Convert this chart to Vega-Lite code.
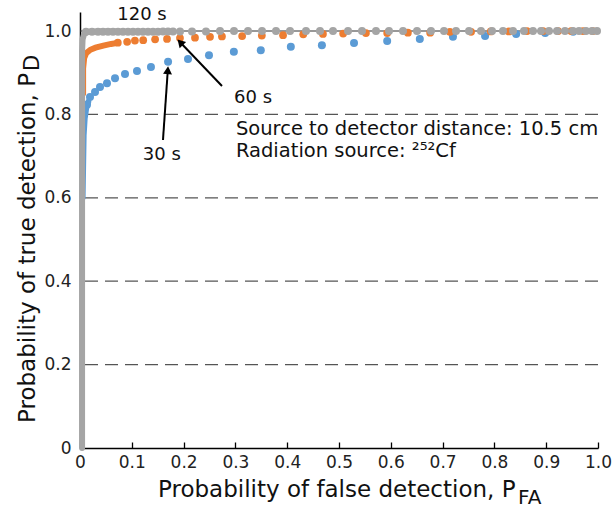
{
  "$schema": "https://vega.github.io/schema/vega-lite/v6.json",
  "width": 518,
  "height": 436,
  "autosize": "none",
  "padding": {"left": 80, "top": 12, "right": 18, "bottom": 64},
  "background": "white",
  "config": {
    "view": {"stroke": null},
    "font": "DejaVu Sans",
    "axis": {"grid": false, "domainColor": "#000", "domainWidth": 1.5, "labelColor": "#222", "labelFontSize": 17, "labelFont": "DejaVu Sans"}
  },
  "datasets": {
    "grid": [{"y": 0.2}, {"y": 0.4}, {"y": 0.6}, {"y": 0.8}],
    "top": [{"y": 1.0}],
    "blueBand": [{"x": 0.005, "y": 0.6}, {"x": 0.007, "y": 0.75}, {"x": 0.009, "y": 0.79}, {"x": 0.012, "y": 0.815}, {"x": 0.016, "y": 0.83}],
    "blue": [
      {"x": 0.0135, "y": 0.823}, {"x": 0.0193, "y": 0.842}, {"x": 0.029, "y": 0.854}, {"x": 0.0386, "y": 0.866},
      {"x": 0.0521, "y": 0.875}, {"x": 0.0676, "y": 0.887}, {"x": 0.0869, "y": 0.897}, {"x": 0.110, "y": 0.904},
      {"x": 0.137, "y": 0.914}, {"x": 0.170, "y": 0.926}, {"x": 0.2085, "y": 0.933}, {"x": 0.249, "y": 0.942},
      {"x": 0.297, "y": 0.950}, {"x": 0.349, "y": 0.954}, {"x": 0.407, "y": 0.962}, {"x": 0.467, "y": 0.966},
      {"x": 0.529, "y": 0.971}, {"x": 0.593, "y": 0.976}, {"x": 0.656, "y": 0.981}, {"x": 0.720, "y": 0.986},
      {"x": 0.782, "y": 0.988}, {"x": 0.842, "y": 0.993}, {"x": 0.898, "y": 0.995}, {"x": 0.952, "y": 0.998}
    ],
    "orangeBand": [{"x": 0.006, "y": 0.85}, {"x": 0.006, "y": 0.91}, {"x": 0.008, "y": 0.935}, {"x": 0.012, "y": 0.947}, {"x": 0.02, "y": 0.955}, {"x": 0.03, "y": 0.96}, {"x": 0.045, "y": 0.965}, {"x": 0.06, "y": 0.969}, {"x": 0.07, "y": 0.971}],
    "orange": [
      {"x": 0.073, "y": 0.972}, {"x": 0.091, "y": 0.974}, {"x": 0.106, "y": 0.977}, {"x": 0.122, "y": 0.978},
      {"x": 0.145, "y": 0.980}, {"x": 0.168, "y": 0.981}, {"x": 0.193, "y": 0.983}, {"x": 0.222, "y": 0.984},
      {"x": 0.251, "y": 0.986}, {"x": 0.274, "y": 0.987}, {"x": 0.313, "y": 0.988}, {"x": 0.351, "y": 0.989},
      {"x": 0.392, "y": 0.990}, {"x": 0.431, "y": 0.992}, {"x": 0.469, "y": 0.993}, {"x": 0.508, "y": 0.994},
      {"x": 0.552, "y": 0.995}, {"x": 0.593, "y": 0.995}, {"x": 0.633, "y": 0.996}, {"x": 0.676, "y": 0.996},
      {"x": 0.714, "y": 0.998}, {"x": 0.755, "y": 0.998}, {"x": 0.793, "y": 0.999}, {"x": 0.828, "y": 0.999},
      {"x": 0.863, "y": 1.0}, {"x": 0.894, "y": 1.0}, {"x": 0.923, "y": 1.0}, {"x": 0.948, "y": 1.0},
      {"x": 0.971, "y": 1.0}, {"x": 0.990, "y": 1.0}
    ],
    "grayBand": [{"x": 0.004, "y": 0.0}, {"x": 0.004, "y": 0.6}, {"x": 0.004, "y": 0.95}, {"x": 0.005, "y": 0.98}, {"x": 0.008, "y": 0.993}, {"x": 0.015, "y": 0.998}, {"x": 0.04, "y": 0.999}, {"x": 0.075, "y": 0.999}],
    "gray": [
      {"x": 0.0116, "y": 0.998}, {"x": 0.0232, "y": 0.998}, {"x": 0.0347, "y": 0.998}, {"x": 0.0444, "y": 0.998},
      {"x": 0.0541, "y": 0.998}, {"x": 0.0637, "y": 0.998}, {"x": 0.0734, "y": 0.998}, {"x": 0.0830, "y": 0.998},
      {"x": 0.0927, "y": 0.998}, {"x": 0.1023, "y": 0.998}, {"x": 0.1120, "y": 0.998}, {"x": 0.1216, "y": 0.998},
      {"x": 0.1313, "y": 0.998}, {"x": 0.1409, "y": 0.998}, {"x": 0.1506, "y": 0.998}, {"x": 0.1602, "y": 0.999},
      {"x": 0.1699, "y": 0.999}, {"x": 0.1795, "y": 0.999}, {"x": 0.1931, "y": 0.999}, {"x": 0.2162, "y": 0.999},
      {"x": 0.2432, "y": 0.999}, {"x": 0.2703, "y": 1.0}, {"x": 0.2973, "y": 1.0}, {"x": 0.3243, "y": 1.0},
      {"x": 0.3514, "y": 1.0}, {"x": 0.3784, "y": 1.0}, {"x": 0.4054, "y": 1.0}, {"x": 0.4363, "y": 1.0},
      {"x": 0.4633, "y": 1.0}, {"x": 0.4884, "y": 1.0}, {"x": 0.5174, "y": 1.0}, {"x": 0.5444, "y": 1.0},
      {"x": 0.5714, "y": 1.0}, {"x": 0.5965, "y": 1.0}, {"x": 0.6236, "y": 1.0}, {"x": 0.6506, "y": 1.0},
      {"x": 0.6776, "y": 1.0}, {"x": 0.7027, "y": 1.0}, {"x": 0.7259, "y": 1.0}, {"x": 0.7510, "y": 1.0},
      {"x": 0.7741, "y": 1.0}, {"x": 0.7954, "y": 1.0}, {"x": 0.8166, "y": 1.0}, {"x": 0.8359, "y": 1.0},
      {"x": 0.8571, "y": 1.0}, {"x": 0.8745, "y": 1.0}, {"x": 0.8900, "y": 1.0}, {"x": 0.9054, "y": 1.0},
      {"x": 0.9208, "y": 1.0}, {"x": 0.9363, "y": 1.0}, {"x": 0.9517, "y": 1.0}, {"x": 0.9633, "y": 1.0},
      {"x": 0.9768, "y": 1.0}, {"x": 0.9884, "y": 1.0}, {"x": 0.9981, "y": 1.0}
    ],
    "arrows": [
      {"label": "60 s", "x": 0.2741, "y": 0.8681, "x2": 0.1934, "y2": 0.9729},
      {"label": "30 s", "x": 0.1602, "y": 0.7386, "x2": 0.1695, "y2": 0.906}
    ],
    "labels": [
      {"t": "120 s", "x": 0.1197, "y": 1.0264},
      {"t": "60 s", "x": 0.334, "y": 0.827},
      {"t": "30 s", "x": 0.158, "y": 0.691}
    ],
    "note": [
      {"t": "Source to detector distance: 10.5 cm", "x": 0.301, "y": 0.751},
      {"t": "Radiation source: ²⁵²Cf", "x": 0.301, "y": 0.698}
    ]
  },
  "layer": [
    {
      "data": {"name": "grid"},
      "mark": {"type": "rule", "strokeDash": [13, 7], "color": "#555", "strokeWidth": 1.3},
      "encoding": {
        "y": {"field": "y", "type": "quantitative", "title": null, "scale": {"domain": [0, 1.0456], "nice": false}}
      }
    },
    {
      "data": {"name": "top"},
      "mark": {"type": "rule", "color": "#333", "strokeWidth": 1.2},
      "encoding": {
        "y": {"field": "y", "type": "quantitative", "title": null, "scale": {"domain": [0, 1.0456], "nice": false}}
      }
    },
    {
      "data": {"name": "blueBand"},
      "mark": {"type": "line", "color": "#5B9BD5", "strokeWidth": 6, "strokeCap": "round"},
      "encoding": {
        "x": {"field": "x", "type": "quantitative", "title": null, "scale": {"domain": [0, 1], "nice": false},
          "axis": {"values": [0, 0.1, 0.2, 0.3, 0.4, 0.5, 0.6, 0.7, 0.8, 0.9, 1.0], "labelExpr": "datum.value == 0 ? '0' : format(datum.value, '.1f')", "labelFlush": false, "tickSize": -6, "tickColor": "#000", "tickWidth": 1.3, "labelPadding": 12}},
        "y": {"field": "y", "type": "quantitative", "title": null, "scale": {"domain": [0, 1.0456], "nice": false},
          "axis": {"values": [0, 0.2, 0.4, 0.6, 0.8, 1.0], "labelExpr": "datum.value == 0 ? '0' : format(datum.value, '.1f')", "ticks": false, "labelPadding": 9}},
        "order": {"field": "y", "type": "quantitative"}
      }
    },
    {
      "data": {"name": "blue"},
      "mark": {"type": "point", "filled": true, "opacity": 1, "color": "#5B9BD5", "size": 64},
      "encoding": {
        "x": {"field": "x", "type": "quantitative", "title": null, "scale": {"domain": [0, 1], "nice": false}},
        "y": {"field": "y", "type": "quantitative", "title": null, "scale": {"domain": [0, 1.0456], "nice": false}}
      }
    },
    {
      "data": {"name": "orangeBand"},
      "mark": {"type": "line", "color": "#ED7D31", "strokeWidth": 6, "strokeCap": "round"},
      "encoding": {
        "x": {"field": "x", "type": "quantitative", "title": null, "scale": {"domain": [0, 1], "nice": false}},
        "y": {"field": "y", "type": "quantitative", "title": null, "scale": {"domain": [0, 1.0456], "nice": false}},
        "order": {"field": "y", "type": "quantitative"}
      }
    },
    {
      "data": {"name": "orange"},
      "mark": {"type": "point", "filled": true, "opacity": 1, "color": "#ED7D31", "size": 60},
      "encoding": {
        "x": {"field": "x", "type": "quantitative", "title": null, "scale": {"domain": [0, 1], "nice": false}},
        "y": {"field": "y", "type": "quantitative", "title": null, "scale": {"domain": [0, 1.0456], "nice": false}}
      }
    },
    {
      "data": {"name": "grayBand"},
      "mark": {"type": "line", "color": "#A5A5A5", "strokeWidth": 6, "strokeCap": "round"},
      "encoding": {
        "x": {"field": "x", "type": "quantitative", "title": null, "scale": {"domain": [0, 1], "nice": false}},
        "y": {"field": "y", "type": "quantitative", "title": null, "scale": {"domain": [0, 1.0456], "nice": false}},
        "order": {"field": "y", "type": "quantitative"}
      }
    },
    {
      "data": {"name": "gray"},
      "mark": {"type": "point", "filled": true, "opacity": 1, "color": "#A5A5A5", "size": 64},
      "encoding": {
        "x": {"field": "x", "type": "quantitative", "title": null, "scale": {"domain": [0, 1], "nice": false}},
        "y": {"field": "y", "type": "quantitative", "title": null, "scale": {"domain": [0, 1.0456], "nice": false}}
      }
    },
    {
      "data": {"name": "arrows"},
      "mark": {"type": "rule", "color": "#000", "strokeWidth": 2},
      "encoding": {
        "x": {"field": "x", "type": "quantitative", "title": null, "scale": {"domain": [0, 1], "nice": false}},
        "y": {"field": "y", "type": "quantitative", "title": null, "scale": {"domain": [0, 1.0456], "nice": false}},
        "x2": {"field": "x2"},
        "y2": {"field": "y2"}
      }
    },
    {
      "data": {"name": "arrows"},
      "transform": [{"filter": "datum.label == '60 s'"}],
      "mark": {"type": "point", "shape": "triangle-up", "filled": true, "opacity": 1, "color": "#000", "size": 80, "angle": 316},
      "encoding": {
        "x": {"field": "x2", "type": "quantitative", "title": null, "scale": {"domain": [0, 1], "nice": false}},
        "y": {"field": "y2", "type": "quantitative", "title": null, "scale": {"domain": [0, 1.0456], "nice": false}}
      }
    },
    {
      "data": {"name": "arrows"},
      "transform": [{"filter": "datum.label == '30 s'"}],
      "mark": {"type": "point", "shape": "triangle-up", "filled": true, "opacity": 1, "color": "#000", "size": 80, "angle": 4},
      "encoding": {
        "x": {"field": "x2", "type": "quantitative", "title": null, "scale": {"domain": [0, 1], "nice": false}},
        "y": {"field": "y2", "type": "quantitative", "title": null, "scale": {"domain": [0, 1.0456], "nice": false}}
      }
    },
    {
      "data": {"name": "labels"},
      "mark": {"type": "text", "fontSize": 18, "align": "center", "baseline": "alphabetic", "color": "#111"},
      "encoding": {
        "x": {"field": "x", "type": "quantitative", "title": null, "scale": {"domain": [0, 1], "nice": false}},
        "y": {"field": "y", "type": "quantitative", "title": null, "scale": {"domain": [0, 1.0456], "nice": false}},
        "text": {"field": "t"}
      }
    },
    {
      "data": {"name": "note"},
      "mark": {"type": "text", "fontSize": 19.5, "align": "left", "baseline": "alphabetic", "color": "#111"},
      "encoding": {
        "x": {"field": "x", "type": "quantitative", "title": null, "scale": {"domain": [0, 1], "nice": false}},
        "y": {"field": "y", "type": "quantitative", "title": null, "scale": {"domain": [0, 1.0456], "nice": false}},
        "text": {"field": "t"}
      }
    },
    {
      "data": {"values": [{"t": "Probability of false detection, P", "x": 0.1506, "y": -0.1175}]},
      "mark": {"type": "text", "fontSize": 23, "align": "left", "baseline": "alphabetic", "color": "#111"},
      "encoding": {
        "x": {"field": "x", "type": "quantitative", "title": null, "scale": {"domain": [0, 1], "nice": false}},
        "y": {"field": "y", "type": "quantitative", "title": null, "scale": {"domain": [0, 1.0456], "nice": false}},
        "text": {"field": "t"}
      }
    },
    {
      "data": {"values": [{"t": "FA", "x": 0.8456, "y": -0.134}]},
      "mark": {"type": "text", "fontSize": 20, "align": "left", "baseline": "alphabetic", "color": "#111"},
      "encoding": {
        "x": {"field": "x", "type": "quantitative", "title": null, "scale": {"domain": [0, 1], "nice": false}},
        "y": {"field": "y", "type": "quantitative", "title": null, "scale": {"domain": [0, 1.0456], "nice": false}},
        "text": {"field": "t"}
      }
    },
    {
      "data": {"values": [{"t": "Probability of true detection, P", "x": -0.0869, "y": 0.06}]},
      "mark": {"type": "text", "fontSize": 23, "align": "left", "baseline": "alphabetic", "angle": 270, "color": "#111"},
      "encoding": {
        "x": {"field": "x", "type": "quantitative", "title": null, "scale": {"domain": [0, 1], "nice": false}},
        "y": {"field": "y", "type": "quantitative", "title": null, "scale": {"domain": [0, 1.0456], "nice": false}},
        "text": {"field": "t"}
      }
    },
    {
      "data": {"values": [{"t": "D", "x": -0.079, "y": 0.904}]},
      "mark": {"type": "text", "fontSize": 21, "align": "left", "baseline": "alphabetic", "angle": 270, "color": "#111"},
      "encoding": {
        "x": {"field": "x", "type": "quantitative", "title": null, "scale": {"domain": [0, 1], "nice": false}},
        "y": {"field": "y", "type": "quantitative", "title": null, "scale": {"domain": [0, 1.0456], "nice": false}},
        "text": {"field": "t"}
      }
    }
  ]
}
